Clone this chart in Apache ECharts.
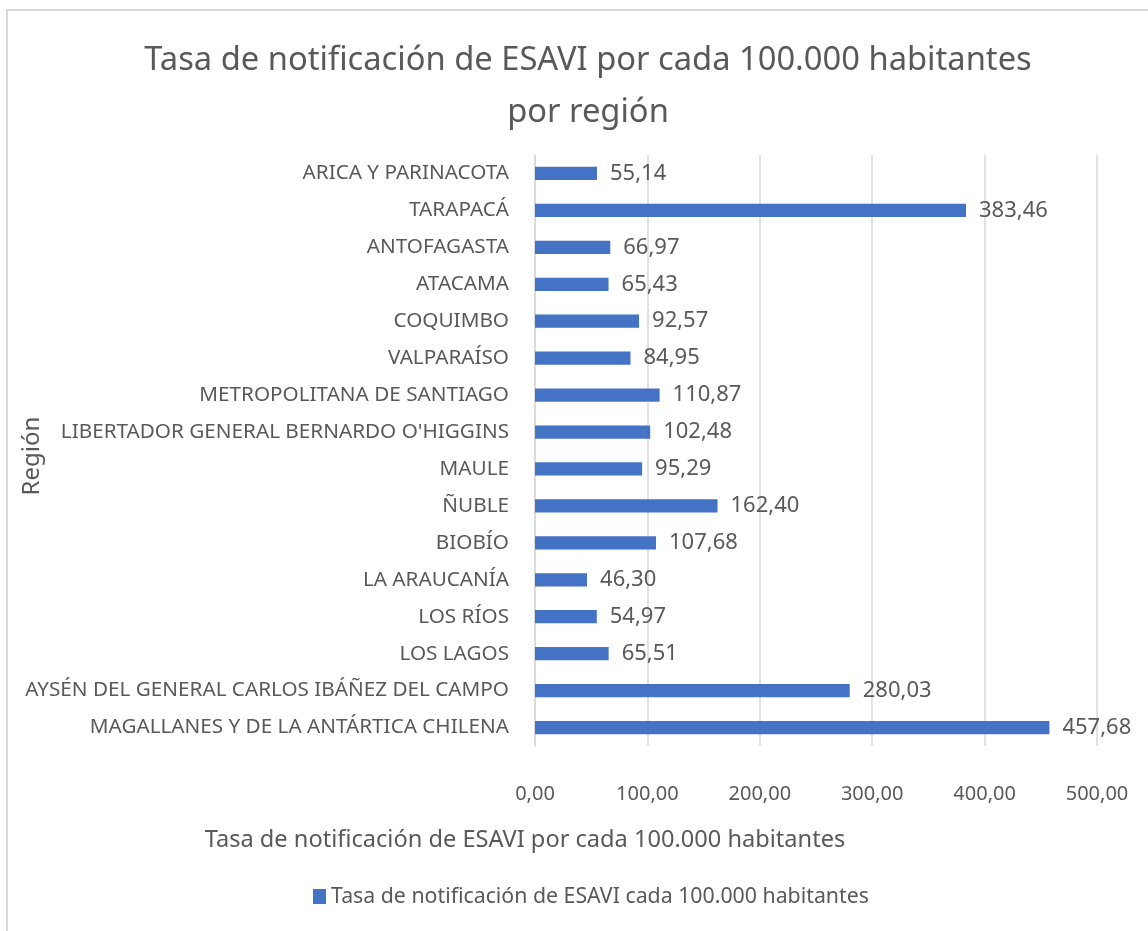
<!DOCTYPE html>
<html>
<head>
<meta charset="utf-8">
<script src="https://cdn.jsdelivr.net/npm/echarts@6/dist/echarts.min.js"></script>
<style>
html,body{margin:0;padding:0;background:#fff;}
#chart{width:1148px;height:931px;}
</style>
</head>
<body>
<div id="chart"></div>
<script>
const regions = [
  "ARICA Y PARINACOTA",
  "TARAPACÁ",
  "ANTOFAGASTA",
  "ATACAMA",
  "COQUIMBO",
  "VALPARAÍSO",
  "METROPOLITANA DE SANTIAGO",
  "LIBERTADOR GENERAL BERNARDO O'HIGGINS",
  "MAULE",
  "ÑUBLE",
  "BIOBÍO",
  "LA ARAUCANÍA",
  "LOS RÍOS",
  "LOS LAGOS",
  "AYSÉN DEL GENERAL CARLOS IBÁÑEZ DEL CAMPO",
  "MAGALLANES Y DE LA ANTÁRTICA CHILENA"
];
const rates = [55.14, 383.46, 66.97, 65.43, 92.57, 84.95, 110.87, 102.48, 95.29, 162.40, 107.68, 46.30, 54.97, 65.51, 280.03, 457.68];
const xTicks = [0, 100, 200, 300, 400, 500];

const titleText = "Tasa de notificación de ESAVI por cada 100.000 habitantes\npor región";
const xAxisTitle = "Tasa de notificación de ESAVI por cada 100.000 habitantes";
const yAxisTitle = "Región";
const seriesName = "Tasa de notificación de ESAVI cada 100.000 habitantes";

const FONT = "'Noto Sans', sans-serif";
const TXT = '#595959';
const fmt = v => Number(v).toFixed(2).replace('.', ',');

const chart = echarts.init(document.getElementById('chart'), null, {renderer: 'canvas'});
chart.setOption({
  backgroundColor: '#fff',
  animation: false,
  textStyle: {fontFamily: FONT},
  graphic: [{
    type: 'rect', silent: true,
    shape: {x: 7, y: 10, width: 1300, height: 1100},
    style: {fill: 'none', stroke: '#d9d9d9', lineWidth: 2}
  }, {
    type: 'text', silent: true,
    x: 32, y: 456, rotation: Math.PI / 2,
    style: {text: yAxisTitle, fill: TXT, font: "24px 'Noto Sans', sans-serif", align: 'center', verticalAlign: 'middle'}
  }],
  title: [{
    text: titleText,
    left: 583, textAlign: 'center', top: 30,
    textStyle: {fontFamily: FONT, fontSize: 32.7, fontWeight: 'normal', color: TXT, lineHeight: 52}
  }, {
    text: xAxisTitle,
    left: 520, textAlign: 'center', top: 823,
    textStyle: {fontFamily: FONT, fontSize: 23.6, fontWeight: 'normal', color: TXT}
  }],
  legend: {
    data: [seriesName],
    left: 308, top: 881,
    icon: 'rect', itemWidth: 13, itemHeight: 15, itemGap: 6,
    textStyle: {fontFamily: FONT, fontSize: 21.3, color: TXT}
  },
  grid: {left: 535, right: 51, top: 155, bottom: 185, containLabel: false, outerBoundsMode: 'none'},
  xAxis: {
    type: 'value', min: xTicks[0], max: xTicks[xTicks.length - 1], interval: 100,
    axisLine: {show: false}, axisTick: {show: false},
    splitLine: {show: true, lineStyle: {color: '#d9d9d9', width: 1.5}},
    axisLabel: {formatter: fmt, color: TXT, fontFamily: FONT, fontSize: 20, margin: 38}
  },
  yAxis: {
    type: 'category', data: regions, inverse: true,
    axisLine: {show: true, lineStyle: {color: '#d9d9d9', width: 1.5}},
    axisTick: {show: false},
    axisLabel: {color: TXT, fontFamily: FONT, fontSize: 20.7, margin: 26}
  },
  series: [{
    name: seriesName,
    type: 'bar',
    data: rates,
    barCategoryGap: '64%',
    itemStyle: {color: '#4472C4'},
    label: {show: true, position: 'right', distance: 13, formatter: p => fmt(p.value),
      color: TXT, fontFamily: FONT, fontSize: 22}
  }]
});
</script>
</body>
</html>
